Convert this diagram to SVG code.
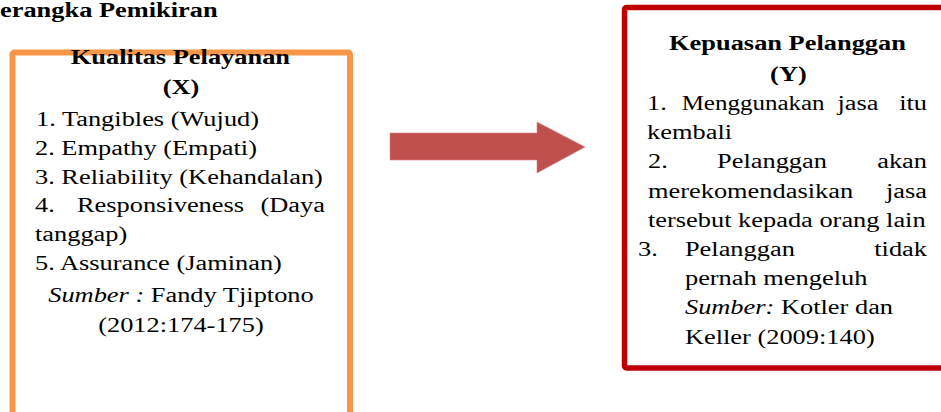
<svg xmlns="http://www.w3.org/2000/svg" width="941" height="412" viewBox="0 0 941 412">
<style>
.t{font-family:"Liberation Serif","Times New Roman",serif;font-size:20px;fill:#000}
.b{font-weight:bold}
.i{font-style:italic}
.m{text-anchor:middle}
.e{text-anchor:end}
</style>
<rect width="941" height="412" fill="#fff"/>
<g id="title" transform="scale(1.32 1)">
<text class="t b" x="0" y="17">erangka Pemikiran</text>
</g>
<g id="connectors">
<polygon id="arrow" points="390,133 537,133 537,122 585,147 537,173 537,160 390,160" fill="#C0504D" stroke="#d9817e" stroke-width="0.6"/>
</g>
<g id="node-x">
<rect x="12.5" y="52.5" width="337.5" height="380" rx="2" fill="#fff" stroke="#F79646" stroke-width="6"/>
<g transform="scale(1.32 1)">
<text class="t b m" x="136.7" y="64">Kualitas Pelayanan</text>
<text class="t b m" x="137.1" y="94.5">(X)</text>
<text class="t" x="27.3" y="126">1. Tangibles (Wujud)</text>
<text class="t" x="26.5" y="154.8">2. Empathy (Empati)</text>
<text class="t" x="26.5" y="183.6">3. Reliability (Kehandalan)</text>
<text class="t" x="26.5" y="212.4">4.</text>
<text class="t" x="58.3" y="212.4">Responsiveness</text>
<text class="t e" x="246.2" y="212.4">(Daya</text>
<text class="t" x="26.5" y="241.2">tanggap)</text>
<text class="t" x="26.5" y="270">5. Assurance (Jaminan)</text>
<text class="t m" x="137.1" y="302.5"><tspan class="i">Sumber :</tspan> Fandy Tjiptono</text>
<text class="t m" x="137.1" y="332">(2012:174-175)</text>
</g>
</g>
<g id="node-y">
<rect x="624.5" y="7.5" width="340" height="360.5" rx="2" fill="#fff" stroke="#C00000" stroke-width="5.5"/>
<g transform="scale(1.32 1)">
<text class="t b m" x="596.6" y="50">Kepuasan Pelanggan</text>
<text class="t b m" x="597.3" y="81.5">(Y)</text>
<text class="t" x="490.2" y="110">1.</text>
<text class="t" x="516.4" y="110" textLength="108.3" lengthAdjust="spacingAndGlyphs">Menggunakan</text>
<text class="t" x="634.5" y="110">jasa</text>
<text class="t e" x="702.3" y="110">itu</text>
<text class="t" x="490.2" y="139.2">kembali</text>
<text class="t" x="490.9" y="168.4">2.</text>
<text class="t" x="543.2" y="168.4">Pelanggan</text>
<text class="t e" x="702.3" y="168.4">akan</text>
<text class="t" x="490.9" y="197.6">merekomendasikan</text>
<text class="t e" x="702.3" y="197.6">jasa</text>
<text class="t" x="490.9" y="226.8">tersebut kepada orang lain</text>
<text class="t" x="483.3" y="256">3.</text>
<text class="t" x="518.9" y="256">Pelanggan</text>
<text class="t e" x="702.3" y="256">tidak</text>
<text class="t" x="518.9" y="285.2">pernah mengeluh</text>
<text class="t" x="518.9" y="314.4"><tspan class="i">Sumber:</tspan> Kotler dan</text>
<text class="t" x="518.9" y="343.6">Keller (2009:140)</text>
</g>
</g>
</svg>
